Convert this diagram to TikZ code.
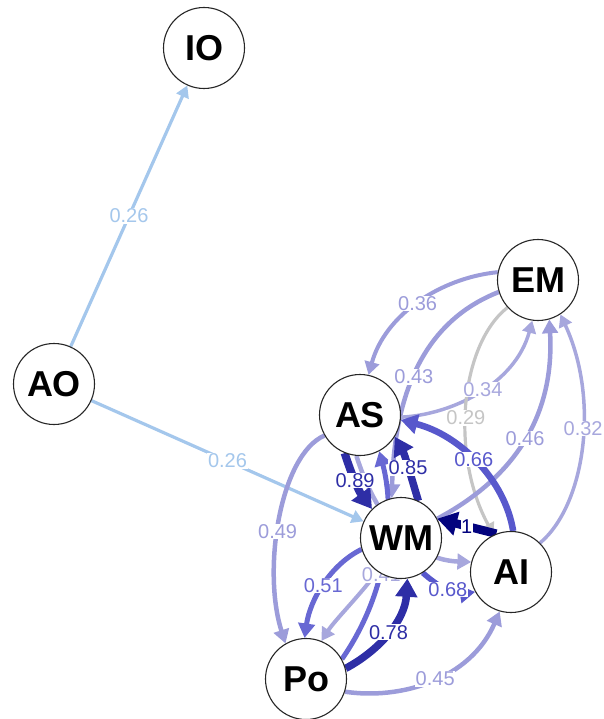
\documentclass[tikz,border=0pt]{standalone}
\usepackage{fontspec}
\setmainfont{Liberation Sans}
\usetikzlibrary{arrows.meta}
\pgfdeclarelayer{edges}
\pgfdeclarelayer{labels}
\pgfsetlayers{edges,labels,main}

% edge colours, light to dark
\definecolor{cLB}{HTML}{A4C7EC}
\definecolor{cGR}{HTML}{C5C5C5}
\definecolor{cL1}{HTML}{A7A7DD}
\definecolor{cL2}{HTML}{9C9CDA}
\definecolor{cM1}{HTML}{6868D3}
\definecolor{cM2}{HTML}{5858CC}
\definecolor{cD1}{HTML}{2E2EA6}
\definecolor{cN}{HTML}{03037E}

\begin{document}
\begin{tikzpicture}[x=1pt,y=1pt,
  vnode/.style={circle, draw=black!85, line width=1.1pt, fill=white,
    minimum size=81pt, inner sep=0pt,
    font=\fontsize{36}{36}\selectfont\bfseries},
  conn/.style={line width=#1, -{Triangle[length=7pt 1.5, width=7pt 1.9]}},
  elab/.style={fill=white, inner sep=0.6pt,
    font=\fontsize{20}{20}\selectfont},
]
\useasboundingbox (0,0) rectangle (603,-719);

% variables
\node[vnode] (IO) at (204,-48) {IO};
\node[vnode] (AO) at (54,-384) {AO};
\node[vnode] (EM) at (538,-280) {EM};
\node[vnode] (AS) at (360,-415) {AS};
\node[vnode] (WM) at (401,-538) {WM};
\node[vnode] (AI) at (511,-572) {AI};
\node[vnode] (Po) at (306,-679) {Po};

% weighted paths, kept below the nodes
\begin{pgfonlayer}{edges}
\draw[conn=3.2pt, draw=cLB] (AO) -- (IO) coordinate[pos=0.5] (lAOIO);
\draw[conn=3.2pt, draw=cLB] (AO) -- (WM) coordinate[pos=0.5] (lAOWM);

\draw[conn=4pt, draw=cL2] (EM.169) .. controls (440,-278) and (385,-315) .. (AS.78)
  coordinate[pos=0.5] (lEMAS);
\draw[conn=4.5pt, draw=cL2] (EM.197) .. controls (440,-315) and (395,-370) .. (WM.103)
  coordinate[pos=0.6] (lEMWM);
\draw[conn=3.5pt, draw=cL1] (AS.-3) .. controls (450,-415) and (515,-385) .. (EM.262)
  coordinate[pos=0.53] (lASEM);
\draw[conn=3.2pt, draw=cGR] (EM.222) .. controls (460,-345) and (450,-455) .. (AI.115)
  coordinate[pos=0.55] (lEMAI);
\draw[conn=4.5pt, draw=cL2] (WM.28) .. controls (510,-480) and (555,-420) .. (EM.286)
  coordinate[pos=0.52] (lWMEM);
\draw[conn=3.5pt, draw=cL1] (AI.45) .. controls (585,-505) and (600,-400) .. (EM.303)
  coordinate[pos=0.57] (lAIEM);

\draw[conn=4.5pt, draw=cL1] (AS.265) .. controls (380,-530) and (420,-560) .. (AI.166);
\draw[conn=5pt, draw=cM1] (Po.29) .. controls (390,-590) and (395,-510) .. (AS.298);

\draw[conn=6.5pt, draw=cM2] (AI.87) .. controls (505,-480) and (460,-435) .. (AS.-7)
  coordinate[pos=0.52] (lAIAS);
\draw[conn=8pt, draw=cD1] (AS.248) .. controls (350,-470) and (358,-490) .. (WM.135)
  coordinate[pos=0.5] (lASWM);
\draw[conn=7.5pt, draw=cD1] (WM.65) .. controls (412,-480) and (405,-455) .. (AS.-32)
  coordinate[pos=0.5] (lWMAS);

\draw[conn=4pt, draw=cL1] (WM.235) .. controls (360,-595) and (335,-620) .. (Po.68)
  coordinate[pos=0.02] (lWMPo);
\draw[conn=5pt, draw=cM1] (WM.196) .. controls (330,-565) and (310,-600) .. (Po.92)
  coordinate[pos=0.5] (lWMPo2);
\draw[conn=4.5pt, draw=cL2] (AS.210) .. controls (280,-455) and (262,-570) .. (Po.120)
  coordinate[pos=0.55] (lASPo);
\draw[conn=7.5pt, draw=cD1] (Po.15) .. controls (380,-650) and (405,-620) .. (WM.279)
  coordinate[pos=0.5] (lPoWM);
\draw[conn=4.5pt, draw=cL2] (Po.342) .. controls (400,-700) and (470,-680) .. (AI.254)
  coordinate[pos=0.52] (lPoAI);
\draw[conn=5.5pt, draw=cM2] (WM.302) .. controls (440,-588) and (455,-595) .. (AI.209)
  coordinate[pos=0.5] (lWMAI);
\draw[conn=8.5pt, draw=cN] (AI.111) -- (WM.28) coordinate[pos=0.5] (lAIWM);
\end{pgfonlayer}

% weights
\begin{pgfonlayer}{labels}
\node[elab, text=cLB] at (lAOIO) {0.26};
\node[elab, text=cLB] at (lAOWM) {0.26};
\node[elab, text=cL2] at (lEMAS) {0.36};
\node[elab, text=cL2] at (lEMWM) {0.43};
\node[elab, text=cL1] at (lASEM) {0.34};
\node[elab, text=cGR] at (lEMAI) {0.29};
\node[elab, text=cL2] at (lWMEM) {0.46};
\node[elab, text=cL1] at (lAIEM) {0.32};
\node[elab, text=cM2] at (lAIAS) {0.66};
\node[elab, text=cD1] at (lASWM) {0.89};
\node[elab, text=cD1] at (lWMAS) {0.85};
\node[elab, text=cL1, xshift=5pt, yshift=-2pt] at (lWMPo) {0.41};
\node[elab, text=cM1] at (lWMPo2) {0.51};
\node[elab, text=cL2] at (lASPo) {0.49};
\node[elab, text=cD1] at (lPoWM) {0.78};
\node[elab, text=cL2] at (lPoAI) {0.45};
\node[elab, text=cM2] at (lWMAI) {0.68};
\node[elab, text=cN] at (lAIWM) {1};
\end{pgfonlayer}
\end{tikzpicture}
\end{document}
